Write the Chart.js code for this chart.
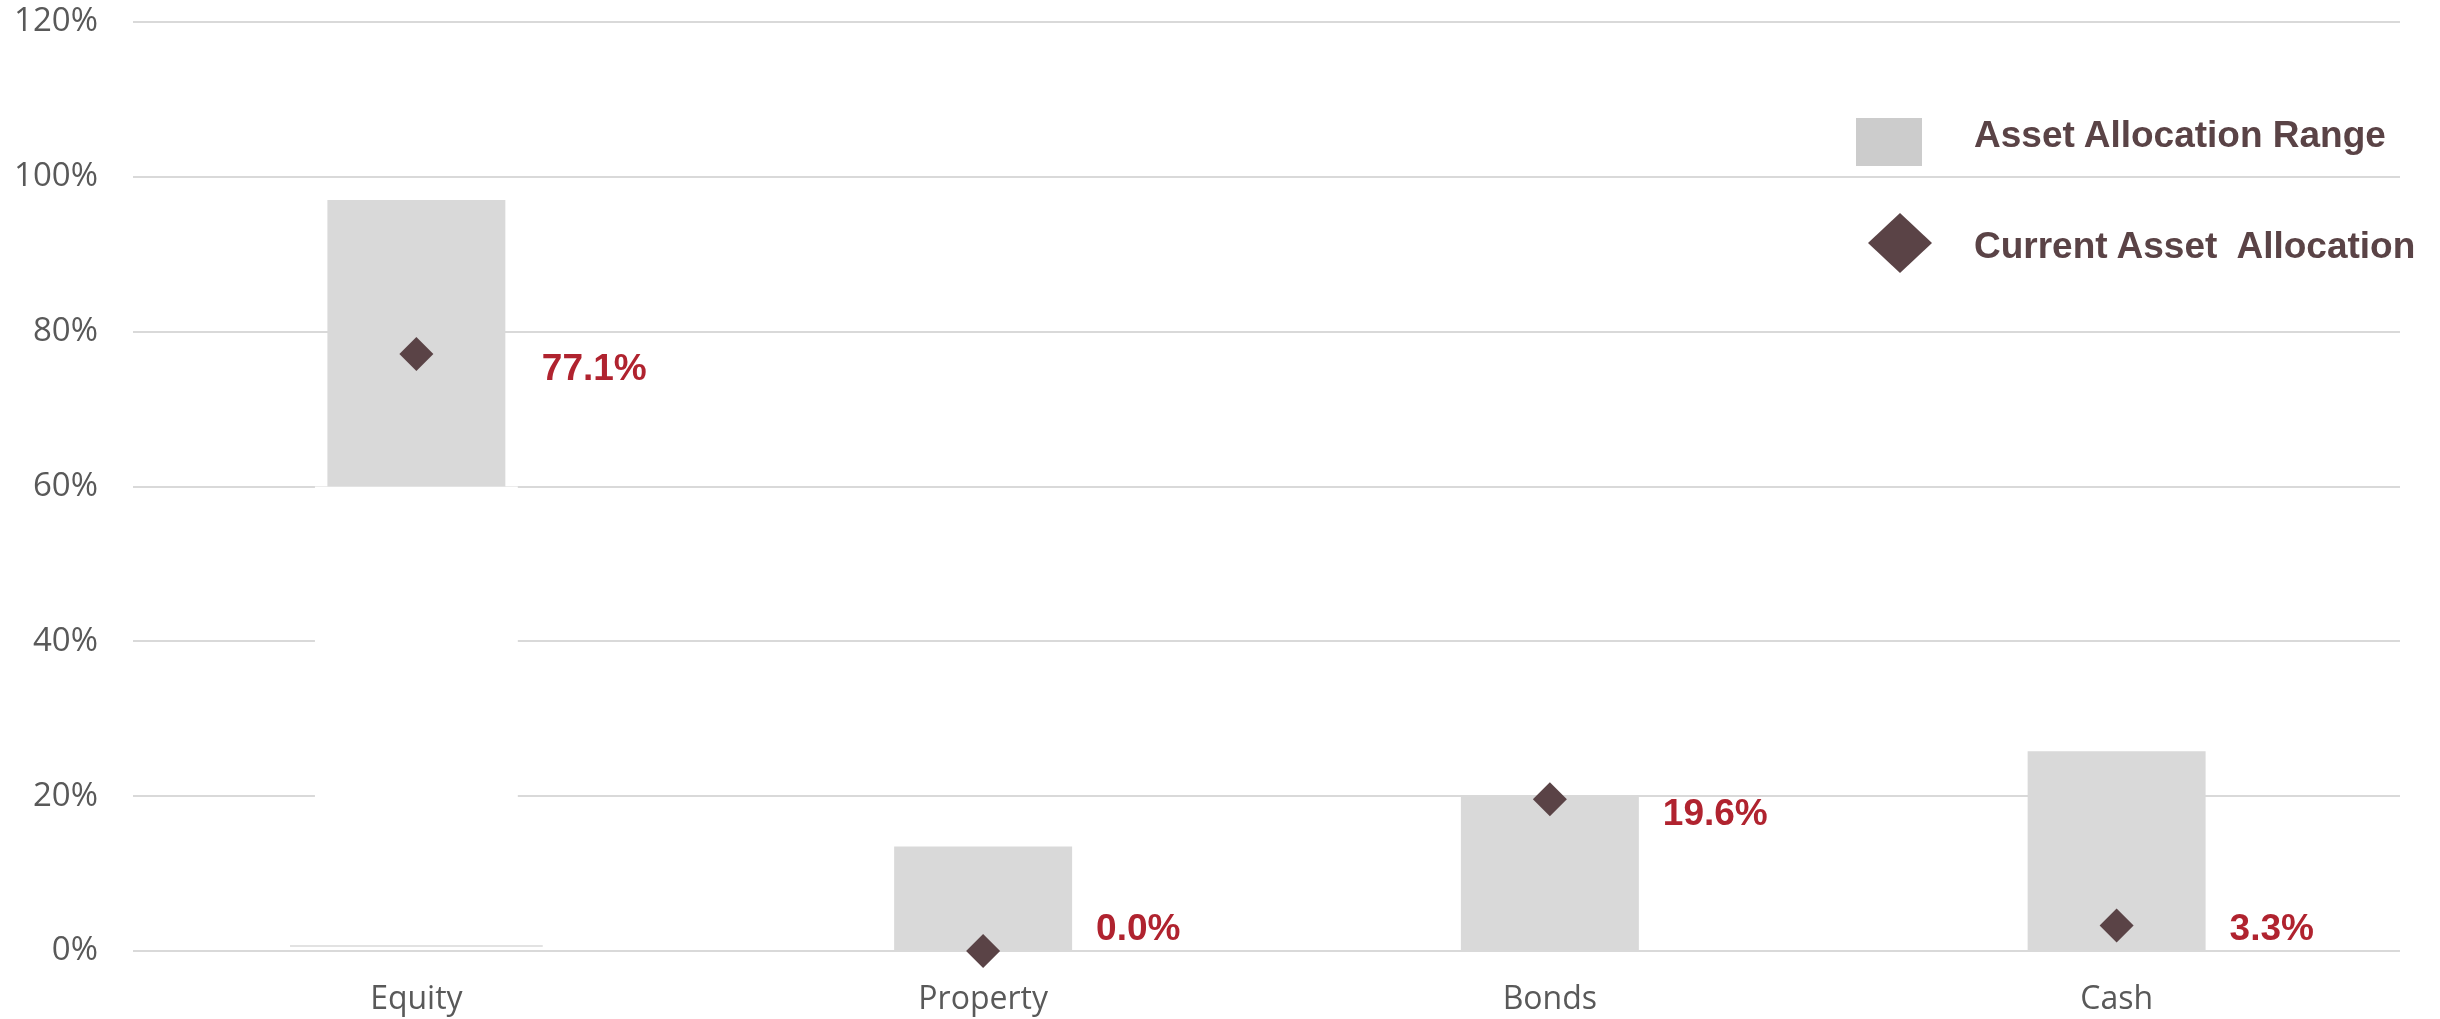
<!DOCTYPE html>
<html>
<head>
<meta charset="utf-8">
<title>Asset Allocation</title>
<script src="https://cdn.jsdelivr.net/npm/chart.js@4.4.1/dist/chart.umd.min.js"></script>
<style>
  html, body { margin: 0; padding: 0; background: #fff; }
  .chart-wrap { position: relative; width: 2440px; height: 1019px; }
  .legend { position: absolute; left: 1856px; top: 110px; font: bold 37px "Liberation Sans", Arial, sans-serif; color: #5a4346; }
  .legend-item { position: relative; height: 111px; }
  .legend-item .swatch { position: absolute; left: 0; }
  .legend-item .text { position: absolute; left: 118px; white-space: pre; line-height: 50px; }
</style>
</head>
<body>
<div class="chart-wrap">
  <canvas id="allocationChart"></canvas>
  <div class="legend" id="legend"></div>
</div>
<script>
'use strict';

// ─── Data ─────────────────────────────────────────────────────────────────────
const categories = ['Equity', 'Property', 'Bonds', 'Cash'];
const rangeLow = [60, 0, 0, 0];
const rangeHigh = [97, 13.5, 20, 25.8];
const currentAllocation = [77.1, 0.0, 19.6, 3.3];
const equityFloor = [[0.55, 0.75], null, null, null];
const yTicks = [0, 20, 40, 60, 80, 100, 120];

const RANGE_COLOR = '#d9d9d9';
const POINT_COLOR = '#5a4346';
const LABEL_COLOR = '#b0232f';
const AXIS_COLOR = '#595959';

// ─── Value labels next to each diamond ────────────────────────────────────────
const valueLabels = {
  id: 'valueLabels',
  afterDatasetsDraw(chart) {
    const { ctx, scales } = chart;
    const baseBars = chart.getDatasetMeta(0).data;
    const rangeBars = chart.getDatasetMeta(1).data;
    const points = chart.getDatasetMeta(3).data;
    const zeroY = scales.y.getPixelForValue(0);
    ctx.save();
    ctx.font = 'bold 37px "Liberation Sans", Arial, sans-serif';
    ctx.fillStyle = LABEL_COLOR;
    ctx.textAlign = 'left';
    ctx.textBaseline = 'middle';
    points.forEach((pt, i) => {
      // start right of the widest bar drawn in this category
      let right = rangeBars[i].x + rangeBars[i].width / 2;
      const base = baseBars[i];
      if (base && !base.skip && rangeLow[i] > 0) right = Math.max(right, base.x + base.width / 2);
      const y = Math.min(pt.y + 16, zeroY - 21);
      ctx.fillText(`${currentAllocation[i].toFixed(1)}%`, right + 24, y);
    });
    ctx.restore();
  },
};

// ─── Chart ────────────────────────────────────────────────────────────────────
function renderChart() {
  const canvas = document.getElementById('allocationChart');
  canvas.width = 2440;
  canvas.height = 1019;

  new Chart(canvas, {
    data: {
      labels: categories,
      datasets: [
        {
          // blank lower part of the equity range, hides the gridlines
          type: 'bar',
          label: 'Base',
          data: rangeLow.map(v => (v > 0 ? [0, v] : null)),
          backgroundColor: '#ffffff',
          grouped: false,
          categoryPercentage: 1,
          barPercentage: 0.358,
          order: 3,
        },
        {
          type: 'bar',
          label: 'Asset Allocation Range',
          data: rangeLow.map((lo, i) => [lo, rangeHigh[i]]),
          backgroundColor: RANGE_COLOR,
          grouped: false,
          categoryPercentage: 1,
          barPercentage: 0.314,
          order: 2,
        },
        {
          type: 'bar',
          label: 'Floor',
          data: equityFloor,
          backgroundColor: RANGE_COLOR,
          grouped: false,
          categoryPercentage: 1,
          barPercentage: 0.446,
          order: 2,
        },
        {
          type: 'line',
          label: 'Current Asset  Allocation',
          data: currentAllocation,
          showLine: false,
          clip: false,
          pointStyle: 'rectRot',
          pointRadius: 17,
          pointHoverRadius: 17,
          pointBackgroundColor: POINT_COLOR,
          pointBorderWidth: 0,
          order: 1,
        },
      ],
    },
    options: {
      responsive: false,
      animation: false,
      events: [],
      layout: { padding: { top: 22, right: 40, left: 0, bottom: 0 } },
      plugins: {
        legend: { display: false },
        tooltip: { enabled: false },
      },
      scales: {
        x: {
          offset: true,
          grid: { display: false, drawTicks: false },
          border: { display: false },
          ticks: {
            color: AXIS_COLOR,
            font: { family: '"Open Sans"', size: 32 },
            padding: 30,
          },
          afterFit(scale) { scale.height = 68; },
        },
        y: {
          min: yTicks[0],
          max: yTicks[yTicks.length - 1],
          afterBuildTicks(scale) { scale.ticks = yTicks.map(v => ({ value: v })); },
          grid: { color: '#d9d9d9', lineWidth: 2, drawTicks: false },
          border: { display: false },
          ticks: {
            color: AXIS_COLOR,
            font: { family: '"Open Sans"', size: 33 },
            padding: 35,
            callback: v => `${v}%`,
          },
          afterFit(scale) {
            scale.width = 133;
            scale.paddingTop = 0;
            scale.paddingBottom = 0;
          },
        },
      },
    },
    plugins: [valueLabels],
  });
}

// ─── Legend ───────────────────────────────────────────────────────────────────
function renderLegend() {
  const items = [
    {
      label: 'Asset Allocation Range',
      swatch: `<div class="swatch" style="top:8px;width:66px;height:48px;background:#cccccc;"></div>`,
    },
    {
      label: 'Current Asset  Allocation',
      swatch: `<svg class="swatch" style="left:12px;top:-8px;" width="64" height="60"><polygon points="32,0 64,30 32,60 0,30" fill="${POINT_COLOR}"/></svg>`,
    },
  ];
  document.getElementById('legend').innerHTML = items.map(it => `
    <div class="legend-item">
      ${it.swatch}
      <div class="text">${it.label}</div>
    </div>
  `).join('');
}

document.addEventListener('DOMContentLoaded', () => {
  renderChart();
  renderLegend();
});
</script>
</body>
</html>
